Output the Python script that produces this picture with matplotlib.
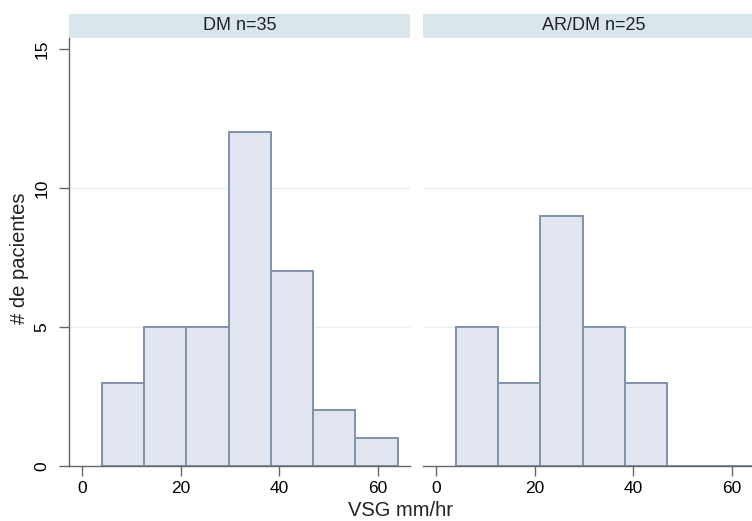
import numpy as np
import matplotlib
matplotlib.use("Agg")
import matplotlib.pyplot as plt
from matplotlib.patches import Rectangle

plt.rcParams['font.family'] = ['Liberation Sans', 'DejaVu Sans']

# histogram bins (VSG mm/hr), 7 bins from 4 to 64
bin_start = 4
bin_end = 64
n_bins = 7
panel_titles = ["DM n=35", "AR/DM n=25"]
counts_dm = [3, 5, 5, 12, 7, 2, 1]
counts_ardm = [5, 3, 9, 5, 3, 0, 0]
x_ticks = [0, 20, 40, 60]
y_ticks = [0, 5, 10, 15]

bar_fill = "#e0e5ef"
bar_edge = "#8093ab"
axis_col = "#666666"
grid_col = "#e8f0f2"
strip_col = "#d9e6eb"

fig = plt.figure(figsize=(7.52, 5.21), dpi=100)

W, H = 752, 521
ax_w = 341 / W
ax_h = 428 / H
ax_b = (H - 466) / H
lefts = [69 / W, 423 / W]

edges = np.linspace(bin_start, bin_end, n_bins + 1)
width = edges[1] - edges[0]

for i, (title, counts) in enumerate(zip(panel_titles, [counts_dm, counts_ardm])):
    ax = fig.add_axes([lefts[i], ax_b, ax_w, ax_h])
    for y in [5, 10]:
        ax.axhline(y, color=grid_col, lw=1.0, zorder=0)
    ax.bar(edges[:-1], counts, width=width, align='edge',
           color=bar_fill, edgecolor=bar_edge, linewidth=1.4, zorder=2)
    ax.set_xlim(-2.64, 66.5)
    ax.set_ylim(0, 15.4)
    ax.set_xticks(x_ticks)
    for s in ['top', 'right']:
        ax.spines[s].set_visible(False)
    ax.spines['bottom'].set_color(axis_col)
    ax.spines['bottom'].set_linewidth(1.0)
    ax.tick_params(axis='x', length=7, width=1.0, color=axis_col,
                   labelsize=12.5, pad=4)
    if i == 0:
        ax.spines['left'].set_color(axis_col)
        ax.spines['left'].set_linewidth(1.0)
        ax.set_yticks(y_ticks)
        ax.set_yticklabels([str(t) for t in y_ticks], rotation=90, va='center')
        ax.tick_params(axis='y', length=7, width=1.0, color=axis_col,
                       labelsize=12.5, pad=7)
    else:
        ax.spines['left'].set_visible(False)
        ax.set_yticks([])
    # strip header
    strip_h = 24 / 428
    ax.add_patch(Rectangle((0, 1.0), 1.0, strip_h, transform=ax.transAxes,
                           facecolor=strip_col, edgecolor='none', clip_on=False))
    ax.text(0.5, 1.0 + strip_h / 2, title, transform=ax.transAxes,
            ha='center', va='center', fontsize=13, color='#222222')

fig.text(20 / W, 1 - 258 / H, "# de pacientes", rotation=90,
         ha='center', va='center', fontsize=14.5, color='#222222')
fig.text(400 / W, 1 - 511 / H, "VSG mm/hr",
         ha='center', va='center', fontsize=14.5, color='#222222')

fig.savefig("out.png", dpi=100)
